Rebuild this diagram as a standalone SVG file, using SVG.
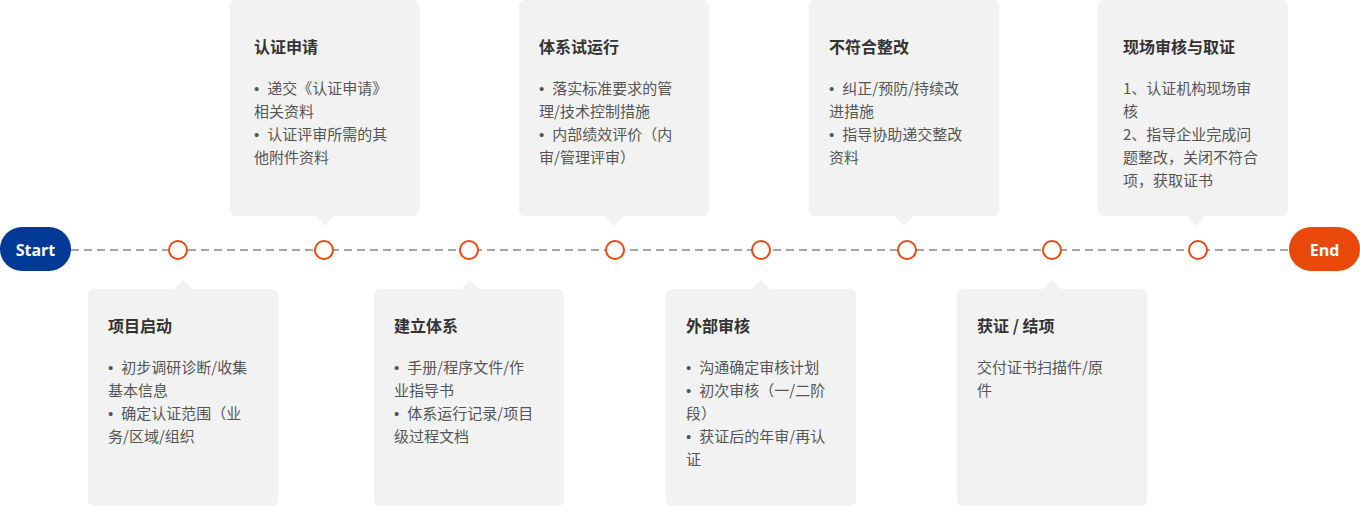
<svg xmlns="http://www.w3.org/2000/svg" width="1360" height="506" viewBox="0 0 1360 506">
<style>
.card{fill:#f2f2f2}
.t{font-family:"Noto Sans CJK SC","Microsoft YaHei",sans-serif;font-size:16px;font-weight:bold;fill:#333}
.b{font-family:"Noto Sans CJK SC","Microsoft YaHei",sans-serif;font-size:15px;fill:#555}
.bl{font-family:"Liberation Sans",sans-serif}
.dot{fill:#fff;stroke:#e8490f;stroke-width:2}
.pill{font-family:"Open Sans","Noto Sans",sans-serif;font-size:16px;font-weight:bold;fill:#fff}
</style>
<rect width="1360" height="506" fill="#fff"/>
<g id="connectors">
<line x1="71" y1="250" x2="1289" y2="250" stroke="#a6a6a6" stroke-width="2" stroke-dasharray="8 5"/>
</g>
<g id="start"><rect x="0" y="227" width="71" height="44" rx="22" fill="#003a96"/><text class="pill" x="35.5" y="255.5" text-anchor="middle">Start</text></g>
<g id="end"><rect x="1289" y="227" width="71" height="44" rx="22" fill="#e8490a"/><text class="pill" x="1324.5" y="255.5" text-anchor="middle">End</text></g>
<g id="dots">
<circle class="dot" cx="178" cy="250" r="9"/>
<circle class="dot" cx="324" cy="250" r="9"/>
<circle class="dot" cx="469" cy="250" r="9"/>
<circle class="dot" cx="615" cy="250" r="9"/>
<circle class="dot" cx="761" cy="250" r="9"/>
<circle class="dot" cx="907" cy="250" r="9"/>
<circle class="dot" cx="1052" cy="250" r="9"/>
<circle class="dot" cx="1198" cy="250" r="9"/>
</g>
<g id="n1">
<rect class="card" x="88" y="289" width="190" height="217" rx="6"/><polygon class="card" points="173,290 183,280 193,290"/>
<text class="t" x="108" y="332">项目启动</text>
<text class="b" x="108" y="373"><tspan x="108" class="bl">•</tspan><tspan dx="8">初步调研诊断/收集</tspan><tspan x="108" dy="23">基本信息</tspan><tspan x="108" dy="23" class="bl">•</tspan><tspan dx="8">确定认证范围（业</tspan><tspan x="108" dy="23">务/区域/组织</tspan></text>
</g>
<g id="n2">
<rect class="card" x="230" y="0" width="190" height="216" rx="6"/><polygon class="card" points="315,215 325,226 335,215"/>
<text class="t" x="254" y="53">认证申请</text>
<text class="b" x="254" y="94"><tspan x="254" class="bl">•</tspan><tspan dx="8">递交《认证申请》</tspan><tspan x="254" dy="23">相关资料</tspan><tspan x="254" dy="23" class="bl">•</tspan><tspan dx="8">认证评审所需的其</tspan><tspan x="254" dy="23">他附件资料</tspan></text>
</g>
<g id="n3">
<rect class="card" x="374" y="289" width="190" height="217" rx="6"/><polygon class="card" points="460,290 470,280 480,290"/>
<text class="t" x="394" y="332">建立体系</text>
<text class="b" x="394" y="373"><tspan x="394" class="bl">•</tspan><tspan dx="8">手册/程序文件/作</tspan><tspan x="394" dy="23">业指导书</tspan><tspan x="394" dy="23" class="bl">•</tspan><tspan dx="8">体系运行记录/项目</tspan><tspan x="394" dy="23">级过程文档</tspan></text>
</g>
<g id="n4">
<rect class="card" x="519" y="0" width="190" height="216" rx="6"/><polygon class="card" points="604,215 614,226 624,215"/>
<text class="t" x="539" y="53">体系试运行</text>
<text class="b" x="539" y="94"><tspan x="539" class="bl">•</tspan><tspan dx="8">落实标准要求的管</tspan><tspan x="539" dy="23">理/技术控制措施</tspan><tspan x="539" dy="23" class="bl">•</tspan><tspan dx="8">内部绩效评价（内</tspan><tspan x="539" dy="23">审/管理评审）</tspan></text>
</g>
<g id="n5">
<rect class="card" x="666" y="289" width="190" height="217" rx="6"/><polygon class="card" points="751,290 761,280 771,290"/>
<text class="t" x="686" y="332">外部审核</text>
<text class="b" x="686" y="373"><tspan x="686" class="bl">•</tspan><tspan dx="8">沟通确定审核计划</tspan><tspan x="686" dy="23" class="bl">•</tspan><tspan dx="8">初次审核（一/二阶</tspan><tspan x="686" dy="23">段）</tspan><tspan x="686" dy="23" class="bl">•</tspan><tspan dx="8">获证后的年审/再认</tspan><tspan x="686" dy="23">证</tspan></text>
</g>
<g id="n6">
<rect class="card" x="809" y="0" width="190" height="216" rx="6"/><polygon class="card" points="894,215 904,226 914,215"/>
<text class="t" x="829" y="53">不符合整改</text>
<text class="b" x="829" y="94"><tspan x="829" class="bl">•</tspan><tspan dx="8">纠正/预防/持续改</tspan><tspan x="829" dy="23">进措施</tspan><tspan x="829" dy="23" class="bl">•</tspan><tspan dx="8">指导协助递交整改</tspan><tspan x="829" dy="23">资料</tspan></text>
</g>
<g id="n7">
<rect class="card" x="957" y="289" width="190" height="217" rx="6"/><polygon class="card" points="1042,290 1052,280 1062,290"/>
<text class="t" x="977" y="332">获证 / 结项</text>
<text class="b" x="977" y="373"><tspan x="977">交付证书扫描件/原</tspan><tspan x="977" dy="23">件</tspan></text>
</g>
<g id="n8">
<rect class="card" x="1098" y="0" width="190" height="216" rx="6"/><polygon class="card" points="1186,215 1196,226 1206,215"/>
<text class="t" x="1123" y="53">现场审核与取证</text>
<text class="b" x="1123" y="94"><tspan x="1123">1、认证机构现场审</tspan><tspan x="1123" dy="23">核</tspan><tspan x="1123" dy="23">2、指导企业完成问</tspan><tspan x="1123" dy="23">题整改，关闭不符合</tspan><tspan x="1123" dy="23">项，获取证书</tspan></text>
</g>
</svg>
